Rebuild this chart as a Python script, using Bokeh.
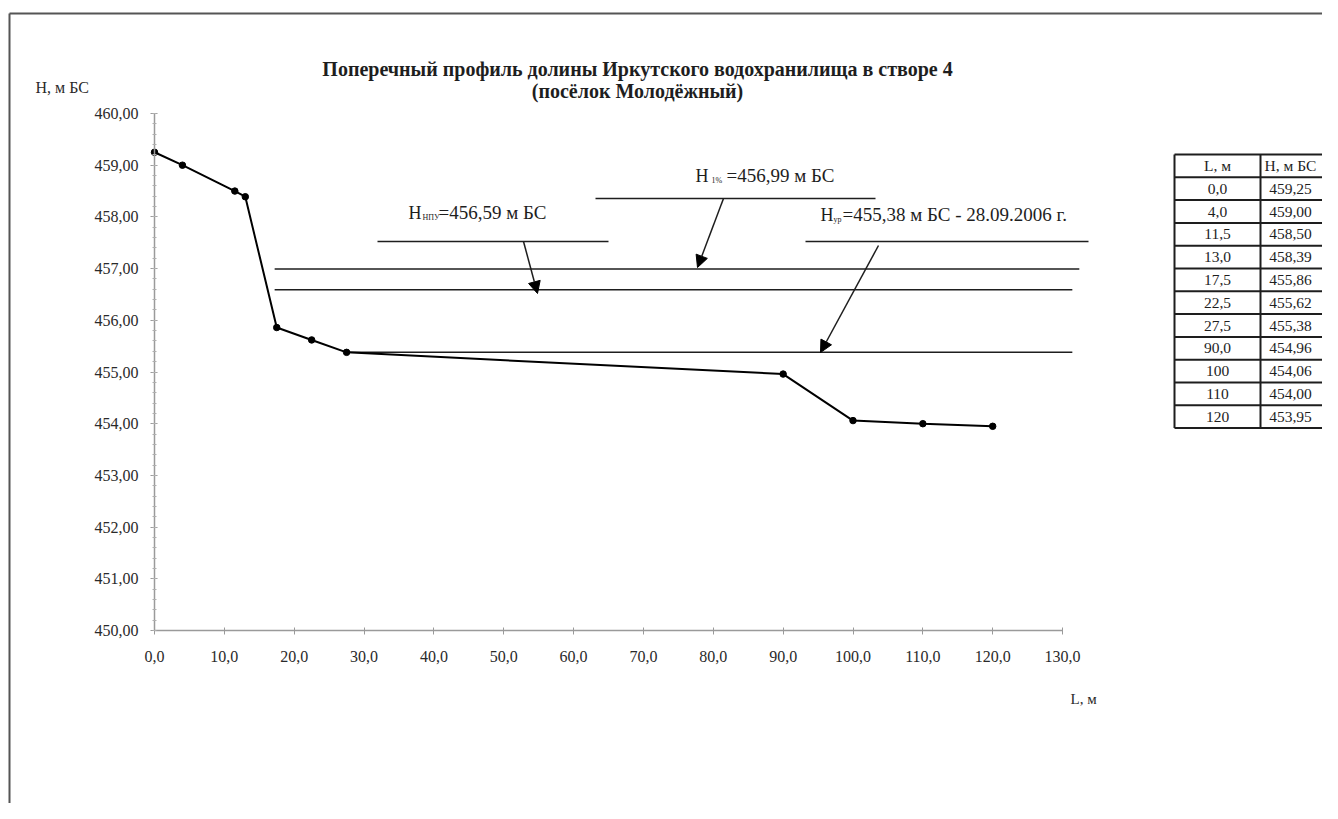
from bokeh.plotting import figure
from bokeh.models import Range1d, FixedTicker, Label, Arrow, NormalHead, ColumnDataSource, CustomJSTickFormatter
from bokeh.core.properties import value
from bokeh.embed import file_html
from bokeh.resources import INLINE

# ---------------- data ----------------
L = [0.0, 4.0, 11.5, 13.0, 17.5, 22.5, 27.5, 90.0, 100.0, 110.0, 120.0]
H = [459.25, 459.00, 458.50, 458.39, 455.86, 455.62, 455.38, 454.96, 454.06, 454.00, 453.95]

LEVEL_H = [456.99, 456.59, 455.38]
LEVEL_L_START = [17.2, 17.2, 27.5]
LEVEL_L_END = [132.4, 131.4, 131.4]

X_TICKS = [0, 10, 20, 30, 40, 50, 60, 70, 80, 90, 100, 110, 120, 130]
Y_TICKS = [450, 451, 452, 453, 454, 455, 456, 457, 458, 459, 460]

TITLE_1 = "Поперечный профиль долины Иркутского водохранилища в створе 4"
TITLE_2 = "(посёлок Молодёжный)"
Y_LABEL = "H, м БС"
X_LABEL = "L, м"
TABLE_HEADERS = ["L, м", "H, м БС"]

ANN_NPU = ["H", "НПУ", "=456,59  м БС"]
ANN_1 = ["H", "1%", "=456,99  м БС"]
ANN_UR = ["H", "ур", "=455,38  м БС - 28.09.2006 г."]

# ---------------- geometry helpers (page pixels -> data) ----------------
W, HGT = 1322, 803
X0_PX, X_PER = 154.0, 6.985
Y0_PX, Y_PER = 113.0, 51.7


def DX(px):
    return (px - X0_PX) / X_PER


def DY(py):
    return 460.0 - (py - Y0_PX) / Y_PER


SERIF = "Liberation Serif"
INK = "#1e1e1e"
LABEL_INK = "#2a2a2a"

p = figure(width=W, height=HGT, title=None,
           x_range=Range1d(DX(0), DX(W)), y_range=Range1d(DY(HGT), DY(0)),
           output_backend="svg", toolbar_location=None,
           min_border_left=0, min_border_right=0, min_border_top=0, min_border_bottom=0)
p.outline_line_color = None
p.xgrid.visible = False
p.ygrid.visible = False
p.background_fill_color = "white"
p.border_fill_color = "white"

# axes drawn at fixed data positions (x = 0, y = 450)
for ax in (p.xaxis, p.yaxis):
    ax.axis_line_color = "#9a9a9a"
    ax.axis_line_width = 1.5
    ax.major_tick_line_color = "#9a9a9a"
    ax.minor_tick_line_color = "#b0b0b0"
    ax.major_tick_in = 3
    ax.major_tick_out = 4
    ax.major_label_text_font = SERIF
    ax.major_label_text_font_size = "16px"
    ax.major_label_text_color = LABEL_INK

p.xaxis.fixed_location = 450
p.xaxis.bounds = (0, 130)
p.xaxis.ticker = FixedTicker(ticks=X_TICKS, minor_ticks=[])
p.xaxis.formatter = CustomJSTickFormatter(code="return tick.toFixed(1).replace('.', ',');")
p.xaxis.major_label_standoff = 16

p.yaxis.fixed_location = 0
p.yaxis.bounds = (450, 460)
p.yaxis.ticker = FixedTicker(ticks=Y_TICKS,
                             minor_ticks=[450 + i * 0.2 for i in range(51)])
p.yaxis.minor_tick_in = 2
p.yaxis.minor_tick_out = 2
p.yaxis.formatter = CustomJSTickFormatter(code="return tick.toFixed(2).replace('.', ',');")
p.yaxis.major_label_standoff = 12

# page frame (scan border)
p.segment(x0=[DX(9), DX(9)], y0=[DY(13), DY(13)], x1=[DX(9), DX(W + 5)], y1=[DY(HGT + 5), DY(13)],
          line_color="#555555", line_width=2)

# level lines
p.segment(x0=LEVEL_L_START, y0=LEVEL_H, x1=LEVEL_L_END, y1=LEVEL_H,
          line_color=INK, line_width=1.5)

# profile
p.line(L, H, line_color="black", line_width=2)
p.scatter(L, H, size=6.5, color="black")

# leader lines under annotation texts
p.segment(x0=[DX(377), DX(595), DX(805)], y0=[DY(241), DY(198), DY(241)],
          x1=[DX(608), DX(875), DX(1088)], y1=[DY(241), DY(198), DY(241)],
          line_color=INK, line_width=1.5)

# arrows
for (xs, ys, xe, ye) in [(523, 241, 537, 293), (723, 198, 697, 267), (878, 245, 820, 352)]:
    p.add_layout(Arrow(end=NormalHead(size=12, fill_color="black", line_color="black"),
                       x_start=DX(xs), y_start=DY(ys), x_end=DX(xe), y_end=DY(ye),
                       line_color=INK, line_width=1.5))


def annotation(parts, x_h, x_sub, x_rest, y):
    p.add_layout(Label(x=DX(x_h), y=DY(y), text=parts[0], text_font=SERIF, text_font_size="18px",
                       text_baseline="middle", text_color=INK))
    p.add_layout(Label(x=DX(x_sub), y=DY(y + 5), text=parts[1], text_font=SERIF, text_font_size="8px",
                       text_baseline="middle", text_color=INK))
    p.add_layout(Label(x=DX(x_rest), y=DY(y), text=parts[2], text_font=SERIF, text_font_size="19px",
                       text_baseline="middle", text_color=INK))


annotation(ANN_NPU, 408, 422, 438, 212)
annotation(ANN_1, 695, 711, 726, 175)
annotation(ANN_UR, 820, 833, 842, 214)

# titles and axis labels
p.add_layout(Label(x=DX(637), y=DY(68), text=TITLE_1, text_font=SERIF, text_font_size="20px",
                   text_font_style="bold", text_align="center", text_baseline="middle", text_color=INK))
p.add_layout(Label(x=DX(637), y=DY(90), text=TITLE_2, text_font=SERIF, text_font_size="20px",
                   text_font_style="bold", text_align="center", text_baseline="middle", text_color=INK))
p.add_layout(Label(x=DX(35), y=DY(87), text=Y_LABEL, text_font=SERIF, text_font_size="16px",
                   text_baseline="middle", text_color=LABEL_INK))
p.add_layout(Label(x=DX(1070), y=DY(698), text=X_LABEL, text_font=SERIF, text_font_size="15px",
                   text_baseline="middle", text_color=LABEL_INK))

# data table at the right
T_TOP, T_ROW = 154.0, 22.8
T_LEFT, T_MID, T_RIGHT = 1174.0, 1260.0, 1345.0
n_rows = len(L) + 1


def fmt_l(v):
    return str(int(v)) if v >= 100 else ("%.1f" % v).replace(".", ",")


def fmt_h(v):
    return ("%.2f" % v).replace(".", ",")


row_y = [DY(T_TOP + i * T_ROW) for i in range(n_rows + 1)]
p.segment(x0=[DX(T_LEFT)] * len(row_y), y0=row_y, x1=[DX(T_RIGHT)] * len(row_y), y1=row_y,
          line_color=INK, line_width=2)
p.segment(x0=[DX(T_LEFT), DX(T_MID)], y0=[row_y[0]] * 2, x1=[DX(T_LEFT), DX(T_MID)], y1=[row_y[-1]] * 2,
          line_color=INK, line_width=2)

col1 = [TABLE_HEADERS[0]] + [fmt_l(v) for v in L]
col2 = [TABLE_HEADERS[1]] + [fmt_h(v) for v in H]
centers = [DY(T_TOP + (i + 0.5) * T_ROW) for i in range(n_rows)]
tsrc = ColumnDataSource(dict(x=[DX(1217)] * n_rows + [DX(1290)] * n_rows,
                             y=centers + centers, t=col1 + col2))
p.text(x="x", y="y", text="t", source=tsrc, text_font=value(SERIF), text_font_size="15.5px",
       text_align="center", text_baseline="middle", text_color=INK)

open("out.html", "w").write(file_html(p, INLINE))
